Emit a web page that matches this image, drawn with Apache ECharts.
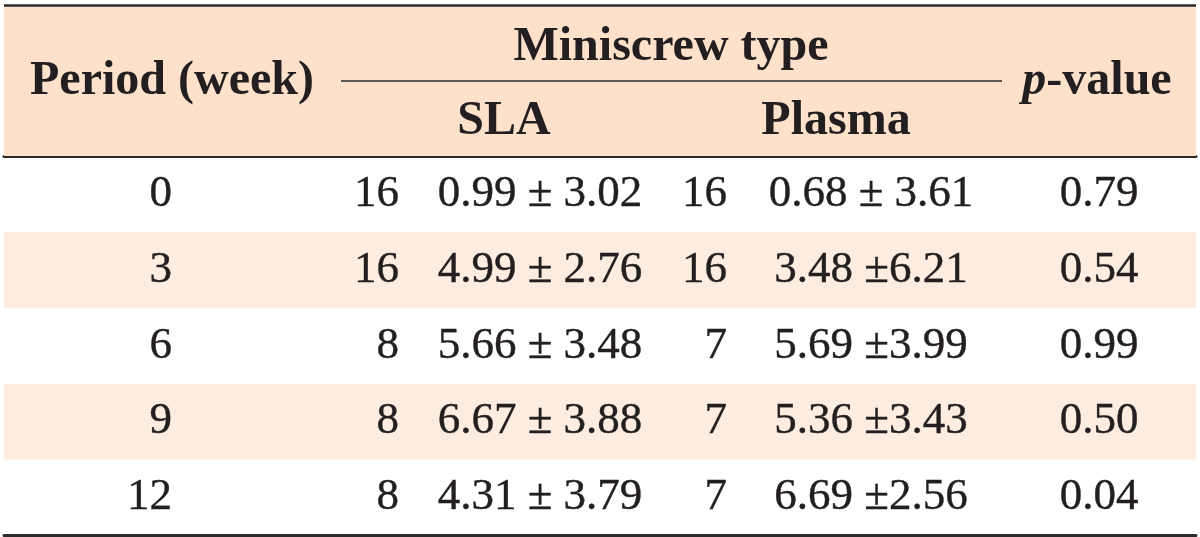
<!DOCTYPE html>
<html>
<head>
<meta charset="utf-8">
<script src="https://cdn.jsdelivr.net/npm/echarts@6/dist/echarts.min.js"></script>
<style>
html,body{margin:0;padding:0;background:#fff;}
#chart{width:1200px;height:537px;}
</style>
</head>
<body>
<div id="chart"></div>
<script>
// ---- data ----
var periods = ['0', '3', '6', '9', '12'];
var nSLA = ['16', '16', '8', '8', '8'];
var slaCells = ['0.99 ± 3.02', '4.99 ± 2.76', '5.66 ± 3.48', '6.67 ± 3.88', '4.31 ± 3.79'];
var nPlasma = ['16', '16', '7', '7', '7'];
var plasmaCells = ['0.68 ± 3.61', '3.48 ±6.21', '5.69 ±3.99', '5.36 ±3.43', '6.69 ±2.56'];
var pValues = ['0.79', '0.54', '0.99', '0.50', '0.04'];

// ---- layout (not data) ----
var FONT = '"Liberation Serif", "Times New Roman", serif';
var TXT = '#231f20';
var LINE = '#2b2b2b';
var HEAD_BG = '#fde1ca';
var BAND = '#fdede1';

var columns = [
  {x: 172, align: 'right', cells: periods},
  {x: 399, align: 'right', cells: nSLA},
  {x: 540, align: 'center', cells: slaCells},
  {x: 727, align: 'right', cells: nPlasma},
  {x: 871, align: 'center', cells: plasmaCells},
  {x: 1099, align: 'center', cells: pValues}
];

var series = columns.map(function (col) {
  return {
    type: 'scatter',
    silent: true,
    symbolSize: 1,
    itemStyle: {color: 'rgba(0,0,0,0)', opacity: 1},
    data: periods.map(function (p, i) { return [col.x, p, col.cells[i]]; }),
    label: {
      show: true,
      position: 'inside',
      align: col.align,
      verticalAlign: 'middle',
      fontFamily: FONT,
      fontSize: 45,
      color: TXT,
      opacity: 1,
      textBorderColor: TXT,
      textBorderWidth: 0.4,
      formatter: function (pr) { return pr.value[2]; }
    }
  };
});

function headText(text, x, y, extra) {
  var s = {
    text: text, x: x, y: y,
    align: 'center', verticalAlign: 'middle',
    fontFamily: FONT, fontSize: 48, fontWeight: 'bold', fill: TXT
  };
  if (extra) for (var k in extra) s[k] = extra[k];
  return {type: 'text', style: s, silent: true, z: 10};
}

var chart = echarts.init(document.getElementById('chart'), null, {renderer: 'canvas'});
chart.setOption({
  animation: false,
  backgroundColor: '#fff',
  grid: {left: 4, right: 4, top: 156, bottom: 1.5},
  xAxis: [
    {type: 'value', min: 4, max: 1196, position: 'bottom',
     axisLine: {show: true, lineStyle: {color: LINE, width: 3}},
     axisTick: {show: false}, axisLabel: {show: false}, splitLine: {show: false}},
    {type: 'value', min: 4, max: 1196, position: 'top',
     axisLine: {show: true, lineStyle: {color: LINE, width: 3}},
     axisTick: {show: false}, axisLabel: {show: false}, splitLine: {show: false}}
  ],
  yAxis: {
    type: 'category', data: periods, inverse: true,
    axisLine: {show: false}, axisTick: {show: false}, axisLabel: {show: false},
    splitLine: {show: false},
    splitArea: {show: true, areaStyle: {color: ['rgba(255,255,255,0)', BAND]}}
  },
  series: series,
  graphic: [
    {type: 'rect', shape: {x: 4, y: 5, width: 1192, height: 151}, style: {fill: HEAD_BG}, silent: true, z: 1},
    {type: 'line', shape: {x1: 4, y1: 5.5, x2: 1196, y2: 5.5}, style: {stroke: LINE, lineWidth: 2.5}, silent: true, z: 5},
    {type: 'line', shape: {x1: 341, y1: 81, x2: 1002, y2: 81}, style: {stroke: LINE, lineWidth: 1.5}, silent: true, z: 5},
    headText('Period (week)', 172, 82),
    headText('Miniscrew type', 671, 48),
    headText('SLA', 504, 122),
    headText('Plasma', 836, 122),
    {type: 'text', silent: true, z: 10, style: {
      text: '{i|p}-value', x: 1097, y: 82, align: 'center', verticalAlign: 'middle',
      fontFamily: FONT, fontSize: 48, fontWeight: 'bold', fill: TXT,
      rich: {i: {fontFamily: FONT, fontSize: 48, fontWeight: 'bold', fontStyle: 'italic', fill: TXT}}
    }}
  ]
});
</script>
</body>
</html>
